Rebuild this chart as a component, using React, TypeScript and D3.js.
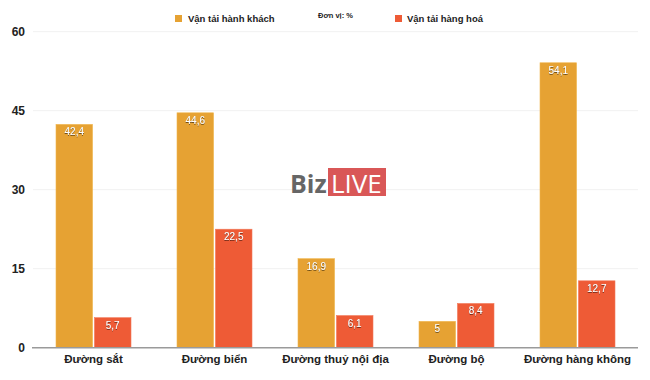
import React from "react";
import * as d3 from "d3";

const categories = ["Đường sắt", "Đường biển", "Đường thuỷ nội địa", "Đường bộ", "Đường hàng không"];
const seriesNames = ["Vận tải hành khách", "Vận tải hàng hoá"];
const passenger = [42.4, 44.6, 16.9, 5, 54.1];
const cargo = [5.7, 22.5, 6.1, 8.4, 12.7];
const yTicks = [0, 15, 30, 45, 60];
const colors = ["#E6A233", "#EE5B36"];
const unitLabel = "Đơn vị: %";

const fmt = (v: number) => String(v).replace(".", ",");

export default function App() {
  const W = 650, H = 380;
  const x0 = d3.scaleBand<string>().domain(categories).range([33, 638]).paddingInner(0).paddingOuter(0);
  const bw = x0.bandwidth();
  const x1 = d3.scaleBand<string>().domain(seriesNames).range([23, bw - 23]).paddingInner(0.05);
  const y = d3.scaleLinear().domain([0, 60]).range([347.7, 31.7]);
  const series = [passenger, cargo];
  const font = "'Liberation Sans', Arial, Helvetica, sans-serif";

  return (
    <svg width={W} height={H} style={{ position: "absolute", left: 0, top: 0, fontFamily: font }}>
      <defs>
        <filter id="ts" x="-20%" y="-20%" width="140%" height="140%">
          <feDropShadow dx="0" dy="0.6" stdDeviation="0.6" floodColor="#000" floodOpacity="0.85" />
        </filter>
      </defs>
      <rect width={W} height={H} fill="#fff" />
      {yTicks.map((t) => (
        <g key={t}>
          {t !== 0 && <line x1={33} x2={638} y1={y(t)} y2={y(t)} stroke="#f1f1f1" strokeWidth={1} />}
          <text x={25} y={y(t) + 4} textAnchor="end" fontSize={12} fontWeight="bold" fill="#222">{t}</text>
        </g>
      ))}
      {/* watermark */}
      <g>
        <rect x={328} y={168} width={58} height={28} fill="#D95757" />
        <text y={193} fontSize={26} fontFamily="'Open Sans', 'DejaVu Sans', sans-serif">
          <tspan x={290} fontSize={25} fontWeight="bold" fill="#666">Biz</tspan>
          <tspan x={331} fill="#fff">LIVE</tspan>
        </text>
      </g>
      {categories.map((c, i) => (
        <g key={c} transform={`translate(${x0(c)},0)`}>
          {seriesNames.map((s, j) => {
            const v = series[j][i];
            const bx = x1(s)!;
            return (
              <g key={s}>
                <rect x={bx} y={y(v)} width={x1.bandwidth()} height={y(0) - y(v)} fill={colors[j]} stroke={j === 0 ? "#F0B64E" : "#F27A5A"} strokeWidth={0.6} />
                <text x={bx + x1.bandwidth() / 2} y={y(v) + 11} textAnchor="middle" fontSize={10} fill="#fff" filter="url(#ts)">{fmt(v)}</text>
              </g>
            );
          })}
          <text x={bw / 2} y={363} textAnchor="middle" fontSize={11.5} fontWeight="bold" fill="#222">{c}</text>
        </g>
      ))}
      <line x1={32} x2={638} y1={y(0)} y2={y(0)} stroke="#9a9a9a" strokeWidth={1.5} />
      {/* legend */}
      <rect x={175} y={15} width={7} height={7} fill={colors[0]} />
      <text x={188} y={22} fontSize={9.5} fontWeight="bold" fill="#222">{seriesNames[0]}</text>
      <text x={318} y={18} fontSize={7.5} fontWeight="bold" fill="#222">{unitLabel}</text>
      <rect x={395} y={15} width={7} height={7} fill={colors[1]} />
      <text x={407} y={22} fontSize={9.5} fontWeight="bold" fill="#222">{seriesNames[1]}</text>
    </svg>
  );
}
